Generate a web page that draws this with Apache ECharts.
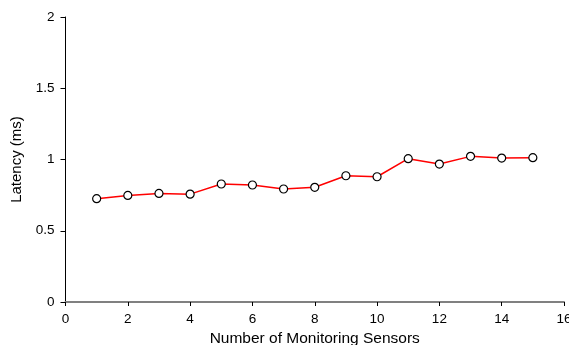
<!DOCTYPE html>
<html><head><meta charset="utf-8">
<script src="https://cdn.jsdelivr.net/npm/echarts@6/dist/echarts.min.js"></script>
<style>html,body{margin:0;padding:0;background:#fff}#c{width:569px;height:345px}</style>
</head><body><div id="c"></div>
<script>
var sensors = [1,2,3,4,5,6,7,8,9,10,11,12,13,14,15];
var latency = [0.725,0.748,0.762,0.757,0.828,0.821,0.793,0.805,0.886,0.879,1.006,0.968,1.022,1.010,1.013];
var xTitle = 'Number of Monitoring Sensors';
var yTitle = 'Latency (ms)';
var chart = echarts.init(document.getElementById('c'));
var font = 'Liberation Sans, Arial, sans-serif';
chart.setOption({
  animation:false,
  grid:{left:65.5,right:5,top:17,bottom:43,outerBoundsMode:'none',containLabel:false},
  xAxis:{type:'value',min:0,max:16,interval:2,
    name:xTitle,nameLocation:'middle',nameGap:29,
    nameTextStyle:{fontFamily:font,fontSize:15.5,color:'#000'},
    axisLine:{lineStyle:{color:'#808080',width:2}},
    axisTick:{show:true,length:4,lineStyle:{color:'#000'}},
    axisLabel:{fontFamily:font,fontSize:13.5,color:'#000',margin:10,showMaxLabel:true},
    splitLine:{show:false}},
  yAxis:{type:'value',min:0,max:2,interval:0.5,
    name:yTitle,nameLocation:'middle',nameGap:39,
    nameTextStyle:{fontFamily:font,fontSize:15,color:'#000'},
    axisLine:{show:true,lineStyle:{color:'#000',width:1}},
    axisTick:{show:true,length:5,lineStyle:{color:'#000'}},
    axisLabel:{fontFamily:font,fontSize:13.5,color:'#000',margin:11},
    splitLine:{show:false}},
  series:[{type:'line',data:sensors.map(function(s,i){return [s,latency[i]];}),
    symbol:'circle',symbolSize:8,
    lineStyle:{color:'#ff0000',width:1.5},
    itemStyle:{color:'#fff',borderColor:'#000',borderWidth:1.2},
    z:3}]
});
</script></body></html>
